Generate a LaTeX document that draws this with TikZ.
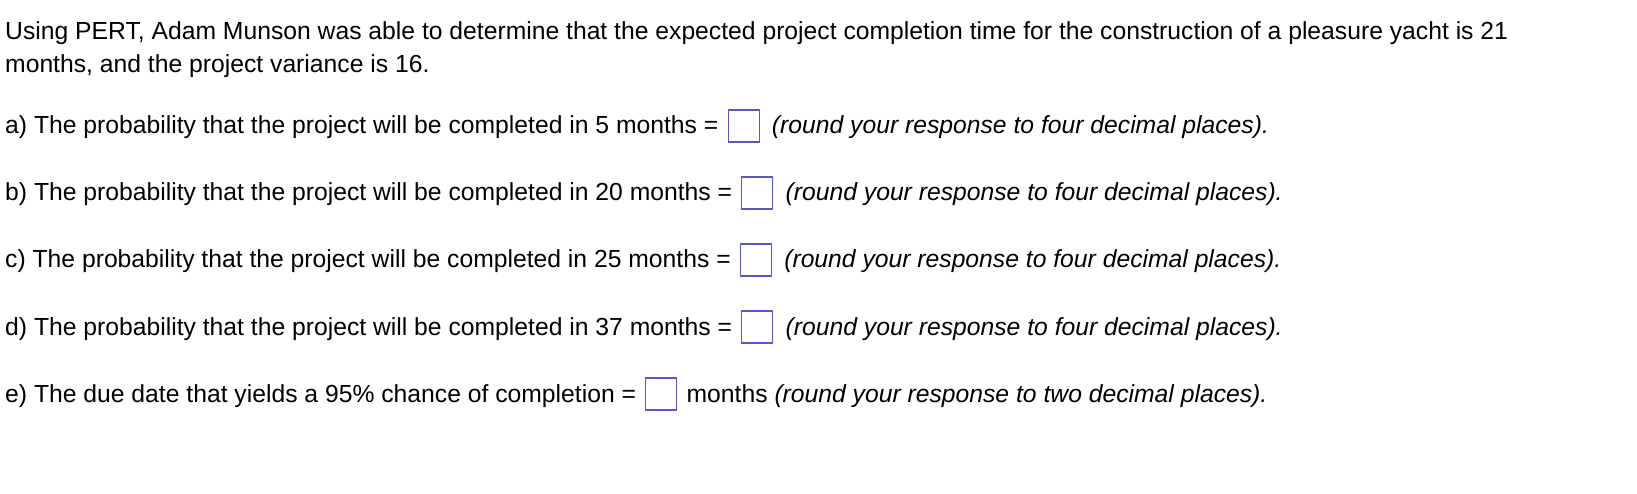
\documentclass[tikz,border=0pt]{standalone}
\usepackage{fontspec}
\setmainfont{Liberation Sans}
\begin{document}
\begin{tikzpicture}[x=1pt,y=-1pt,
  txt/.style={anchor=base west,inner sep=0pt,font=\fontsize{24.7}{30}\selectfont,text=black},
  ansbox/.style={draw=blue!55!gray!85,line width=1.1pt,minimum width=31pt,minimum height=32pt,inner sep=0pt}]
\useasboundingbox (0,0) rectangle (1637,494);
\node[txt] (l1) at (5,40) {Using PERT, Adam Munson was able to determine that the expected project completion time for the construction of a pleasure yacht is 21};
\node[txt] (l2) at (5,73) {months, and the project variance is 16.};
\foreach \n/\y/\t in {a/134/{a) The probability that the project will be completed in 5 months =},
  b/201/{b) The probability that the project will be completed in 20 months =},
  c/268/{c) The probability that the project will be completed in 25 months =},
  d/335/{d) The probability that the project will be completed in 37 months =}}{
  \node[txt] (\n) at (5,\y) {\t};
  \node[ansbox,anchor=west] (b\n) at ([xshift=9pt,yshift=8pt]\n.base east) {};
  \node[txt] (r\n) at ([xshift=12pt]b\n.east |- \n.base) {\itshape (round your response to four decimal places).};
}
\node[txt] (e) at (5,402) {e) The due date that yields a 95\% chance of completion =};
\node[ansbox,anchor=west] (be) at ([xshift=9pt,yshift=8pt]e.base east) {};
\node[txt] (re) at ([xshift=9pt]be.east |- e.base) {months \itshape (round your response to two decimal places).};
\end{tikzpicture}
\end{document}
